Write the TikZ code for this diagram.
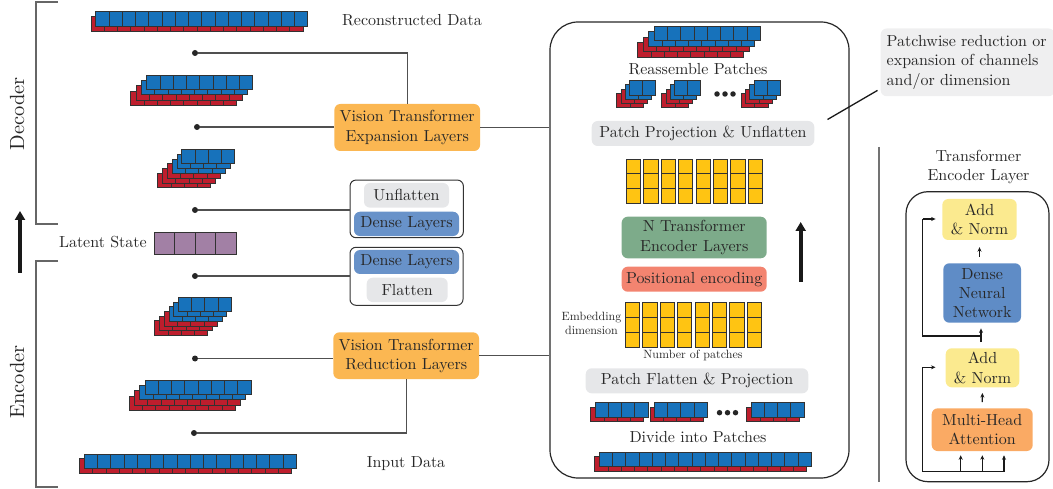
\documentclass[tikz,border=0pt]{standalone}
\usepackage{fontspec}
\setmainfont{lmroman10-regular}[Extension=.otf,BoldFont=lmroman10-bold,ItalicFont=lmroman10-italic]
\usetikzlibrary{arrows.meta,calc}
\definecolor{pblue}{RGB}{23,114,187}
\definecolor{pred}{RGB}{190,30,45}
\definecolor{cellline}{RGB}{50,50,50}
\definecolor{vtorange}{RGB}{251,183,82}
\definecolor{denseblue}{RGB}{104,146,201}
\definecolor{lgray}{RGB}{230,231,233}
\definecolor{cgray}{RGB}{239,239,240}
\definecolor{tgreen}{RGB}{125,171,138}
\definecolor{salmon}{RGB}{243,132,112}
\definecolor{lpurple}{RGB}{162,128,165}
\definecolor{gold}{RGB}{255,196,18}
\definecolor{lyellow}{RGB}{251,234,143}
\definecolor{mhaorange}{RGB}{250,170,100}
\definecolor{dnnblue}{RGB}{95,140,198}
\definecolor{txt}{RGB}{40,40,40}
\definecolor{lineg}{RGB}{80,80,80}
\newcommand{\fbig}{\fontsize{16}{19.3}\selectfont}
\newcommand{\fsmall}{\fontsize{12}{14}\selectfont}
\newcommand{\fhuge}{\fontsize{20.5}{24}\selectfont}
% #1 x, #2 y (front layer top-left), #3 squares, #4 blue layers, #5 red layers, #6 offset
\newcommand{\patchstack}[6]{%
  \pgfmathtruncatemacro{\psL}{#4+#5-1}%
  \foreach \k in {\psL,...,0}{%
    \pgfmathsetmacro{\psx}{#1-\k*#6}%
    \pgfmathsetmacro{\psy}{#2+\k*#6}%
    \ifnum\k<#4\relax\def\pscol{pblue}\else\def\pscol{pred}\fi
    \foreach \i in {1,...,#3}{%
      \draw[cell,fill=\pscol] ({\psx+(\i-1)*13.25},\psy) rectangle ++(13.25,14.5);
    }%
  }%
}
\newcommand{\ygrid}[2]{%
  \foreach \c in {0,...,7}{\foreach \r in {0,1,2}{%
    \draw[cell,fill=gold] ({#1+\c*17.47},{#2+\r*14.75}) rectangle ++(14.4,14.75);}}%
}
\begin{document}
\begin{tikzpicture}[x=1pt,y=-1pt,
  cell/.style={draw=cellline,line width=0.7pt},
  lbl/.style={text=txt,font=\fbig,inner sep=0pt,align=center},
  box/.style={text=txt,font=\fbig,inner sep=0pt,align=center,rounded corners=6pt},
  dot/.style={circle,fill=black!85,inner sep=0pt,minimum size=6pt},
  conn/.style={draw=lineg,line width=1.1pt},
  bracket/.style={draw=black!60,line width=1.3pt},
  thick arrow/.style={line width=3.6pt,draw=black!90,-{Triangle[length=9pt,width=10pt]}},
  arr/.style={line width=1.3pt,draw=black!90,-{Stealth[length=4.5pt,width=4pt]}},
  sk/.style={line width=1.3pt,draw=black!90}
]
\useasboundingbox (0,0) rectangle (1053,489);

% ---------- left: brackets, labels ----------
\draw[bracket] (58,2) -- (36,2) -- (36,224) -- (58,224);
\draw[bracket] (58,261) -- (36,261) -- (36,487) -- (58,487);
\node[lbl,font=\fhuge,rotate=90] (declbl) at (17,114) {Decoder};
\node[lbl,font=\fhuge,rotate=90] (enclbl) at (17,382) {Encoder};
\coordinate (la0) at (20,273);
\coordinate (la1) at (20,211);
\draw[thick arrow] (la0) -- (la1);

\node[lbl] (recon) at (412,20) {Reconstructed Data};
\node[lbl] (input) at (406,464) {Input Data};
\node[lbl,anchor=east] (latent) at (147,242.5) {Latent State};
\foreach \i in {0,...,3}{\draw[cell,fill=lpurple] ({154+\i*20.5},232) rectangle ++(20.5,22);}

% stacks
\patchstack{95.7}{11.7}{16}{1}{1}{4.8}
\patchstack{146.7}{75}{8}{2}{2}{5.3}
\patchstack{181.7}{149.3}{4}{3}{3}{4.8}
\patchstack{178.3}{297.3}{4}{3}{3}{4.7}
\patchstack{145}{380}{8}{2}{2}{5.3}
\patchstack{84.3}{454}{16}{1}{1}{4.8}

% dots
\node[dot] (d1) at (195,53) {};
\node[dot] (d2) at (197,127) {};
\node[dot] (d3) at (195,210) {};
\node[dot] (d4) at (195,276) {};
\node[dot] (d5) at (195,358.5) {};
\node[dot] (d6) at (194,433) {};

% boxes
\node[box,fill=vtorange,minimum width=145.7pt,minimum height=47pt] (vte) at (407.2,127.5) {Vision Transformer\\Expansion Layers};
\node[box,fill=vtorange,minimum width=145.7pt,minimum height=46.7pt] (vtr) at (406.2,355.7) {Vision Transformer\\Reduction Layers};
\node[draw=black!80,line width=1pt,rounded corners=6pt,minimum width=113.3pt,minimum height=57.7pt,inner sep=0pt] (udbox) at (406.7,208.9) {};
\node[box,fill=lgray,minimum width=85pt,minimum height=24.7pt] (unfl) at (406.5,195.3) {Unflatten};
\node[box,fill=denseblue,minimum width=105pt,minimum height=24.3pt] (dense1) at (406.5,223.9) {Dense Layers};
\node[draw=black!80,line width=1pt,rounded corners=6pt,minimum width=113pt,minimum height=58pt,inner sep=0pt] (dfbox) at (406.5,276.3) {};
\node[box,fill=denseblue,minimum width=105pt,minimum height=24pt] (dense2) at (406.5,262) {Dense Layers};
\node[box,fill=lgray,minimum width=81pt,minimum height=24.3pt] (flat) at (407.2,289.9) {Flatten};

% middle panel
\node[draw=black!85,line width=1.2pt,rounded corners=28pt,minimum width=299pt,minimum height=456pt,inner sep=0pt] (panel) at (699.5,250) {};

% connectors left
\draw[conn] (d1) -| (vte);
\draw[conn] (d2) -- (d2 -| vte.west);
\draw[conn] (d3) -- (d3 -| udbox.west);
\draw[conn] (d4) -- (d4 -| dfbox.west);
\draw[conn] (d5) -- (d5 -| vtr.west);
\draw[conn] (d6) -| (vtr);
\draw[conn] (vte.east) -- (vte.east -| panel.west);
\draw[conn] (vtr.east) -- (vtr.east -| panel.west);

% panel contents
\patchstack{654.3}{26}{8}{2}{2}{5.5}
\node[lbl] (reasm) at (698,69.5) {Reassemble Patches};
\patchstack{629.3}{80.5}{2}{2}{2}{4.2}
\patchstack{674.3}{80.5}{2}{2}{2}{4.2}
\patchstack{754}{80.5}{2}{2}{2}{4.2}
\foreach \j/\xx in {1/717,2/725,3/733}{\node[dot,minimum size=5.5pt] (ta\j) at (\xx,94) {};}
\node[box,fill=lgray,minimum width=222.6pt,minimum height=25pt] (ppu) at (703,133.5) {Patch Projection \& Unflatten};
\ygrid{626}{159}
\node[box,fill=tgreen,minimum width=145pt,minimum height=41.6pt] (nte) at (694.2,237.5) {N Transformer\\Encoder Layers};
\node[box,fill=salmon,minimum width=145pt,minimum height=25pt] (pos) at (694.2,279.2) {Positional encoding};
\coordinate (ma0) at (800.7,282);
\coordinate (ma1) at (800.7,222);
\draw[thick arrow] (ma0) -- (ma1);
\ygrid{625}{302.7}
\node[lbl,font=\fsmall] (embd) at (591.5,323) {Embedding\\dimension};
\node[lbl,font=\fsmall] (npatch) at (693,355) {Number of patches};
\node[box,fill=lgray,minimum width=222.6pt,minimum height=25pt] (pfp) at (697,380.8) {Patch Flatten \& Projection};
\patchstack{595}{402.7}{4}{1}{1}{4.2}
\patchstack{654.3}{402.7}{4}{1}{1}{4.2}
\patchstack{751}{402.7}{4}{1}{1}{4.2}
\foreach \j/\xx in {1/719.5,2/727.5,3/735.5}{\node[dot,minimum size=5.5pt] (tb\j) at (\xx,412.7) {};}
\node[lbl] (divide) at (698,436.7) {Divide into Patches};
\patchstack{599.3}{452.3}{16}{1}{1}{4.5}

% callout
\node[box,fill=cgray,align=left,anchor=north west,minimum width=172pt,minimum height=67.7pt,text width=162pt,inner xsep=6pt] (callout) at (880.5,28.3) {Patchwise reduction or\\expansion of channels\\and/or dimension};
\coordinate (lead) at (827.5,119.5);
\draw[line width=1.3pt,draw=black!90] ($(callout.south west)+(-3,-6)$) -- (lead);

% separator
\draw[line width=1.2pt,draw=black!55] (879,147) -- (879,482);

% transformer encoder layer
\node[lbl] (tetitle) at (978.5,167) {Transformer\\Encoder Layer};
\node[draw=black!85,line width=1.2pt,rounded corners=22pt,minimum width=143pt,minimum height=290pt,inner sep=0pt] (tel) at (977.5,336.7) {};
\node[box,fill=lyellow,minimum width=74.4pt,minimum height=41pt] (an1) at (979.5,219.5) {Add\\\& Norm};
\node[box,fill=dnnblue,minimum width=77.7pt,minimum height=59.4pt] (dnn) at (982.2,293) {Dense\\Neural\\Network};
\node[box,fill=lyellow,minimum width=73.6pt,minimum height=39pt] (an2) at (982.5,367.8) {Add\\\& Norm};
\node[box,fill=mhaorange,minimum width=101pt,minimum height=42.7pt] (mha) at (982.2,429.7) {Multi-Head\\Attention};

\draw[arr,shorten <=6.5pt,shorten >=7pt] (dnn.north -| an1) -- (an1.south);
\draw[arr,shorten <=6pt,shorten >=5.5pt] (mha.north) -- (an2.south);
\coordinate (j1) at (981,336);
\coordinate (j1s) at (981,342);
\coordinate (k1) at (922.7,336);
\coordinate (k2) at (922.7,219);
\draw[arr,shorten >=5.5pt] (j1s) -- (j1s |- dnn.south);
\draw[sk] (j1) -- (k1) -- (k2);
\draw[arr,shorten >=6.5pt] (k2) -- (k2 -| an1.west);
% bottom
\coordinate (b0) at (922.7,471.7);
\coordinate (b1) at (960.7,471.7);
\coordinate (b2) at (982.3,471.7);
\coordinate (b3) at (1004,471.7);
\coordinate (b4) at (922.7,367.3);
\draw[sk] (b3) -- (b0) -- (b4);
\draw[arr,shorten >=10pt] (b4) -- (b4 -| an2.west);
\draw[arr,shorten >=4pt] (b1) -- (b1 |- mha.south);
\draw[arr,shorten >=4pt] (b2) -- (b2 |- mha.south);
\draw[arr,shorten >=4pt] (b3) -- (b3 |- mha.south);
\end{tikzpicture}
\end{document}
